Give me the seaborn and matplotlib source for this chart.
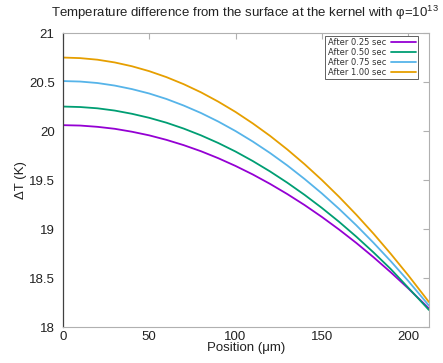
import numpy as np
import pandas as pd
import matplotlib
matplotlib.use("Agg")
import matplotlib.pyplot as plt
import seaborn as sns
from matplotlib.ticker import FuncFormatter

position = [0, 10, 20, 30, 40, 50, 60, 70, 80, 90, 100, 110, 120, 130, 140,
            150, 160, 170, 180, 190, 200, 210, 212]
t025 = [20.06, 20.056, 20.043, 20.023, 19.993, 19.956, 19.910, 19.856, 19.794, 19.723,
        19.644, 19.557, 19.461, 19.357, 19.245, 19.124, 18.995, 18.858, 18.712, 18.558,
        18.396, 18.225, 18.190]
t050 = [20.25, 20.245, 20.232, 20.209, 20.176, 20.135, 20.085, 20.025, 19.956, 19.878,
        19.791, 19.694, 19.588, 19.473, 19.349, 19.216, 19.074, 18.922, 18.761, 18.591,
        18.403, 18.214, 18.175]
t075 = [20.51, 20.505, 20.490, 20.464, 20.428, 20.383, 20.327, 20.260, 20.184, 20.097,
        20.000, 19.893, 19.776, 19.649, 19.511, 19.364, 19.206, 19.038, 18.859, 18.671,
        18.472, 18.263, 18.220]
t100 = [20.75, 20.744, 20.728, 20.700, 20.661, 20.611, 20.550, 20.478, 20.395, 20.300,
        20.195, 20.078, 19.951, 19.812, 19.662, 19.501, 19.329, 19.146, 18.952, 18.746,
        18.530, 18.303, 18.256]
labels = ["After 0.25 sec", "After 0.50 sec", "After 0.75 sec", "After 1.00 sec"]
colors = ["#9400d3", "#009e73", "#56b4e9", "#e69f00"]

frames = []
for lab, vals in zip(labels, [t025, t050, t075, t100]):
    frames.append(pd.DataFrame({"Position": position, "dT": vals, "series": lab}))
df = pd.concat(frames, ignore_index=True)

sns.set_theme(style="white")
plt.rcParams['font.family'] = ['Liberation Sans', 'DejaVu Sans']
plt.rcParams['mathtext.fontset'] = 'custom'
plt.rcParams['mathtext.rm'] = 'Liberation Sans'

fig = plt.figure(figsize=(4.43, 3.63), dpi=100)
ax = fig.add_axes([0.142, 0.099, 0.826, 0.810])
sns.lineplot(data=df, x="Position", y="dT", hue="series", hue_order=labels,
             palette=colors, linewidth=1.3, ax=ax, legend=True)

ax.set_xlim(0, 212)
ax.set_ylim(18, 21)
ax.set_xticks([0, 50, 100, 150, 200])
ax.set_yticks([18, 18.5, 19, 19.5, 20, 20.5, 21])
ax.yaxis.set_major_formatter(FuncFormatter(lambda v, p: f"{v:g}"))
ax.tick_params(direction="in", length=4, width=0.8, top=True, right=True,
               labelsize=9.5, colors="#b0b0b0", labelcolor="#222222")
ax.tick_params(axis="y", pad=6)
ax.tick_params(axis="x", pad=3)
for side in ["top", "right", "bottom"]:
    ax.spines[side].set_color("#b0b0b0")
    ax.spines[side].set_linewidth(0.8)
ax.spines["left"].set_color("#404040")
ax.spines["left"].set_linewidth(0.9)

ax.set_xlabel("Position (μm)", fontsize=9.5, labelpad=-1, color="#222222")
ax.set_ylabel("ΔT (K)", fontsize=9.5, labelpad=1, color="#222222")
fig.text(0.553, 0.965, "Temperature difference from the surface at the kernel with φ=10$^{13}$",
         fontsize=9.5, ha="center", va="center", color="#222222")

leg = ax.legend(loc="upper right", bbox_to_anchor=(0.975, 0.995),
                prop={"family": "DejaVu Sans", "size": 6},
                markerfirst=False, frameon=True, fancybox=False, framealpha=1,
                edgecolor="#606060", handlelength=3.0, borderpad=0.25,
                labelspacing=0.1, handletextpad=0.6, borderaxespad=0.2)
leg.get_frame().set_linewidth(0.7)
for t in leg.get_texts():
    t.set_ha("right")
    t.set_color("#333333")
for line in leg.get_lines():
    line.set_linewidth(1.3)

fig.savefig("out.png", dpi=100)
